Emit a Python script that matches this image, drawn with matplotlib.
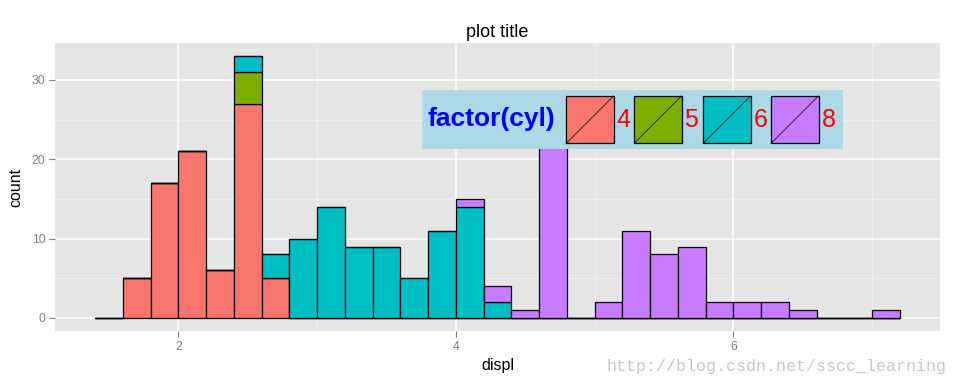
import numpy as np
import matplotlib
matplotlib.use("Agg")
import matplotlib.pyplot as plt
from matplotlib.patches import Rectangle
from matplotlib.lines import Line2D

plt.rcParams['font.family'] = ['Liberation Sans', 'DejaVu Sans']

# ---- data: stacked histogram of displ by cyl (binwidth 0.2) ----
bin_starts = [1.4, 1.6, 1.8, 2.0, 2.2, 2.4, 2.6, 2.8, 3.0, 3.2,
              3.4, 3.6, 3.8, 4.0, 4.2, 4.4, 4.6, 4.8, 5.0, 5.2,
              5.4, 5.6, 5.8, 6.0, 6.2, 6.4, 6.6, 6.8, 7.0]
binwidth = 0.2
cyl_levels = ["4", "5", "6", "8"]
cyl4 = [0, 5, 17, 21, 6, 27, 5, 0, 0, 0, 0, 0, 0, 0, 0, 0, 0, 0, 0, 0, 0, 0, 0, 0, 0, 0, 0, 0, 0]
cyl5 = [0, 0, 0, 0, 0, 4, 0, 0, 0, 0, 0, 0, 0, 0, 0, 0, 0, 0, 0, 0, 0, 0, 0, 0, 0, 0, 0, 0, 0]
cyl6 = [0, 0, 0, 0, 0, 2, 3, 10, 14, 9, 9, 5, 11, 14, 2, 0, 0, 0, 0, 0, 0, 0, 0, 0, 0, 0, 0, 0, 0]
cyl8 = [0, 0, 0, 0, 0, 0, 0, 0, 0, 0, 0, 0, 0, 1, 2, 1, 28, 0, 2, 11, 8, 9, 2, 2, 2, 1, 0, 0, 1]
series = [cyl4, cyl5, cyl6, cyl8]
colors = ["#F8766D", "#7CAE00", "#00BFC4", "#C77CFF"]

W, H = 960, 384
fig = plt.figure(figsize=(W / 100, H / 100), dpi=100)
ax = fig.add_axes([55 / W, 1 - 331 / H, 885 / W, 288 / H])
ax.set_facecolor("#E5E5E5")

bottom = np.zeros(len(bin_starts))
for vals, col in zip(series, colors):
    vals = np.array(vals, dtype=float)
    ax.bar(bin_starts, vals, width=binwidth, bottom=bottom, align="edge",
           color=col, edgecolor="black", linewidth=0.9, zorder=3)
    bottom += vals

ax.set_xlim(1.11, 7.49)
ax.set_ylim(-1.65, 34.65)
ax.set_xticks([2, 4, 6])
ax.set_xticks([3, 5, 7], minor=True)
ax.set_yticks([0, 10, 20, 30])
ax.set_yticks([5, 15, 25], minor=True)
ax.grid(which="major", color="white", linewidth=1.1, zorder=0)
ax.grid(which="minor", color="#F2F2F2", linewidth=0.6, zorder=0)
ax.set_axisbelow(True)
for s in ax.spines.values():
    s.set_visible(False)
ax.tick_params(which="major", colors="#7F7F7F", length=4, width=0.8,
               labelsize=8.8, pad=3)
ax.tick_params(which="minor", length=0)
ax.set_xlabel("displ", fontsize=11.5, labelpad=4)
ax.set_ylabel("count", fontsize=11.5, labelpad=6)
ax.set_title("plot title", fontsize=13, pad=4)

# ---- custom legend (ggplot style, horizontal, inside panel) ----
lg = fig.add_axes([422 / W, 1 - 149 / H, 421 / W, 59 / H])
lg.set_xlim(0, 421)
lg.set_ylim(0, 59)
lg.axis("off")
lg.add_patch(Rectangle((0, 0), 421, 59, facecolor="#ADD8E6", edgecolor="none"))
lg.text(6, 29.5, "factor(cyl)", color="blue", fontsize=19, fontweight="bold",
        va="center", ha="left")
key_left = [144, 212, 281, 349]
for kx, col, lab in zip(key_left, colors, cyl_levels):
    lg.add_patch(Rectangle((kx, 5.5), 47.5, 47.5, facecolor=col,
                           edgecolor="black", linewidth=0.9))
    lg.add_line(Line2D([kx, kx + 47.5], [5.5, 53], color="black", linewidth=0.5))
    lg.text(kx + 50.5, 28.5, lab, color="red", fontsize=18, va="center", ha="left")

# watermark
fig.text(946 / W, 1 - 366 / H, "http://blog.csdn.net/sscc_learning",
         family="Liberation Mono", fontsize=12, color="#C8C8C8",
         ha="right", va="center")

fig.savefig("out.png", dpi=100)
